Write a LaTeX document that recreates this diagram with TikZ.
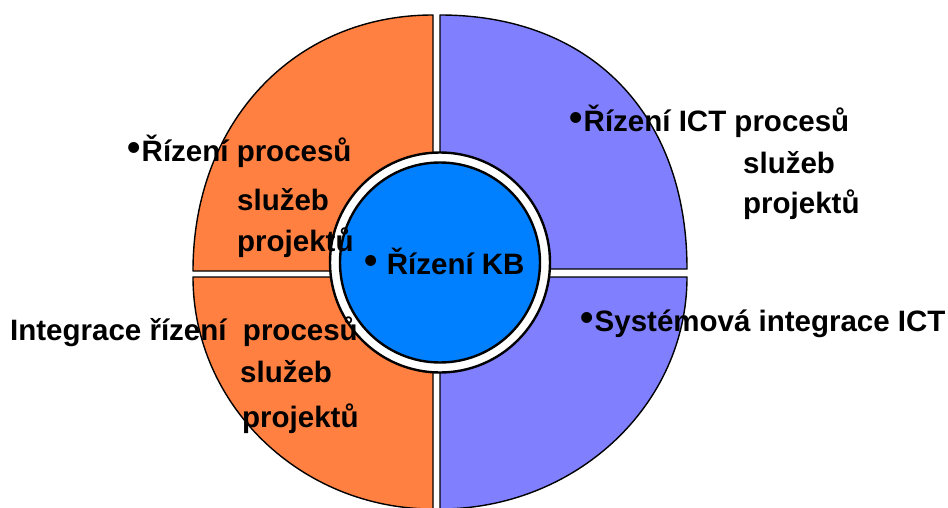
\documentclass[tikz,border=0pt]{standalone}
\usepackage{fontspec}
\setmainfont{Liberation Sans}
\definecolor{quadorange}{RGB}{255,128,64}
\definecolor{quadviolet}{RGB}{128,128,255}
\definecolor{coreblue}{RGB}{0,128,255}
% large raised bullet, as in slide bullets
\newcommand{\blt}{\makebox[12.5pt][l]{\hspace{-2pt}\fontsize{38}{38}\selectfont\raisebox{1pt}{•}}}
\begin{document}
\begin{tikzpicture}[x=1pt,y=1pt,
  quad/.style={draw=black, line width=1.4pt, line join=round},
  ring/.style={draw=black, line width=2.4pt},
  lbl/.style={anchor=base west, inner sep=0pt, font=\fontsize{29.5}{34}\selectfont\bfseries}]
\useasboundingbox (0,0) rectangle (948,507);
\fill[white] (0,0) rectangle (948,507);

% four quadrants, separated by narrow white gaps
\filldraw[quad, fill=quadorange] (433,236) -- (193,236)
  .. controls (193,384.5) and (293.8,492) .. (433,492) -- cycle;
\filldraw[quad, fill=quadviolet] (440,238) -- (440,492)
  .. controls (590.7,492) and (687,392.9) .. (687,238) -- cycle;
\filldraw[quad, fill=quadorange] (433,230) -- (193,230)
  .. controls (193,102) and (301,-2) .. (433,-2) -- cycle;
\filldraw[quad, fill=quadviolet] (440,230) -- (687,230)
  .. controls (687,102) and (575.9,-2) .. (440,-2) -- cycle;

% central disc with white ring
\draw[ring, fill=white] (440,244.5) circle[radius=110];
\draw[ring, fill=coreblue] (440,244.5) circle[radius=100];

% labels
\node[lbl] (tlA) at (129,345) {\blt Řízení procesů};
\node[lbl] (tlB) at (237,297) {služeb};
\node[lbl] (tlC) at (237,256) {projektů};

\node[lbl] (trA) at (571,375) {\blt Řízení ICT procesů};
\node[lbl] (trB) at (743,334) {služeb};
\node[lbl] (trC) at (743,294) {projektů};

\node[lbl] (blA) at (10,167) {Integrace řízení\ \ procesů};
\node[lbl] (blB) at (240,125) {služeb};
\node[lbl] (blC) at (242,80) {projektů};

\node[lbl] (brA) at (582,176) {\blt Systémová integrace ICT};

\node[lbl] (core) at (366,233) {\blt\ Řízení KB};
\end{tikzpicture}
\end{document}
